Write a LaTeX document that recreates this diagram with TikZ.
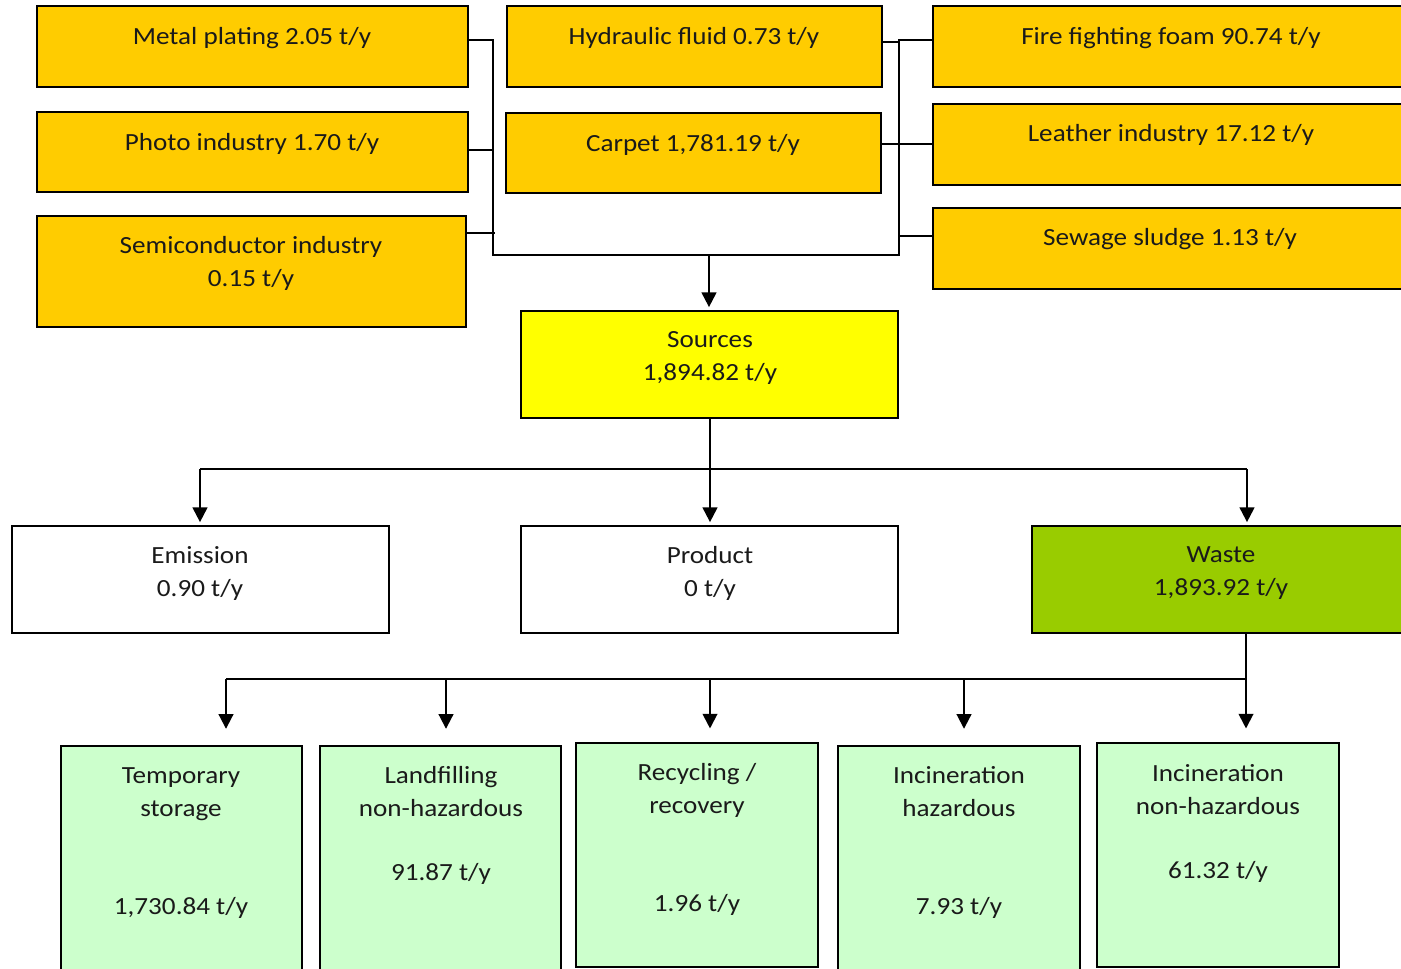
\documentclass[tikz,border=0pt]{standalone}
\usepackage{fontspec}
\setmainfont{Carlito}[FakeStretch=1.1]
\usetikzlibrary{fit,arrows.meta}
\definecolor{orng}{HTML}{FFCC00}
\definecolor{ylw}{HTML}{FFFF00}
\definecolor{wgreen}{HTML}{99CC00}
\definecolor{lgreen}{HTML}{CCFFCC}
\definecolor{txtc}{HTML}{1A1A1A}
\begin{document}
\begin{tikzpicture}[x=0.75pt,y=-0.75pt,
  box/.style={draw=black, line width=1.8pt, inner sep=0pt},
  conn/.style={line width=1.5pt},
  arr/.style={conn, -{Triangle[length=11pt,width=11pt]}, shorten >=2pt},
  txt/.style={font=\fontsize{18.5}{24.75}\selectfont, text=txtc, align=center, inner sep=0pt}]
\clip (0,0) rectangle (1401,969);
\fill[white] (0,0) rectangle (1401,969);
% source boxes
\node[box, fill=orng, fit={(37,6)(468,87)}] (mp) {};
\node[box, fill=orng, fit={(37,112)(468,192)}] (pi) {};
\node[box, fill=orng, fit={(37,216)(466,327)}] (si) {};
\node[box, fill=orng, fit={(507,6)(882,87)}] (hf) {};
\node[box, fill=orng, fit={(506,113)(881,193)}] (cp) {};
\node[box, fill=orng, fit={(933,6)(1412,87)}] (ff) {};
\node[box, fill=orng, fit={(933,104)(1412,185)}] (li) {};
\node[box, fill=orng, fit={(933,208)(1412,289)}] (ss) {};
\node[box, fill=ylw, fit={(521,311)(898,418)}] (src) {};
\node[box, fill=white, fit={(12,526)(389,633)}] (emi) {};
\node[box, fill=white, fit={(521,526)(898,633)}] (prd) {};
\node[box, fill=wgreen, fit={(1032,526)(1412,633)}] (wst) {};
\node[box, fill=lgreen, fit={(61,746)(302,975)}] (tmp) {};
\node[box, fill=lgreen, fit={(320,746)(561,975)}] (lnd) {};
\node[box, fill=lgreen, fit={(576,743)(818,967)}] (rec) {};
\node[box, fill=lgreen, fit={(838,746)(1080,975)}] (ih) {};
\node[box, fill=lgreen, fit={(1097,743)(1339,967)}] (inh) {};
% texts
\node[txt] (tmp1) at (252,38) {Metal plating 2.05 t/y};
\node[txt] (tpi) at (252,144) {Photo industry 1.70 t/y};
\node[txt] (tsi) at (251,263) {Semiconductor industry\\0.15 t/y};
\node[txt] (thf) at (694,38) {Hydraulic fluid 0.73 t/y};
\node[txt] (tcp) at (693,145) {Carpet 1,781.19 t/y};
\node[txt] (tff) at (1171,38) {Fire fighting foam 90.74 t/y};
\node[txt] (tli) at (1171,135) {Leather industry 17.12 t/y};
\node[txt] (tss) at (1170,239) {Sewage sludge 1.13 t/y};
\node[txt] (tsrc) at (710,358) {Sources\\1,894.82 t/y};
\node[txt] (temi) at (200,573) {Emission\\0.90 t/y};
\node[txt] (tprd) at (710,573) {Product\\0 t/y};
\node[txt] (twst) at (1221,573) {Waste\\1,893.92 t/y};
\node[txt] (ttmp) at (181,794) {Temporary\\storage};
\node[txt] (ttmpv) at (181,908) {1,730.84 t/y};
\node[txt] (tlnd) at (441,792) {Landfilling\\non-hazardous};
\node[txt] (tlndv) at (441,874) {91.87 t/y};
\node[txt] (trec) at (697,790) {Recycling /\\recovery};
\node[txt] (trecv) at (697,905) {1.96 t/y};
\node[txt] (tih) at (959,792) {Incineration\\hazardous};
\node[txt] (tihv) at (959,908) {7.93 t/y};
\node[txt] (tinh) at (1218,790) {Incineration\\non-hazardous};
\node[txt] (tinhv) at (1218,872) {61.32 t/y};
% junctions
\coordinate (jL1) at (493,40);
\coordinate (jL2) at (493,150);
\coordinate (jL3) at (495,233);
\coordinate (jBL) at (493,255);
\coordinate (jB) at (709,255);
\coordinate (jBR) at (899,255);
\coordinate (jR1) at (899,40);
\coordinate (jR2) at (899,42);
\coordinate (jR3) at (899,144);
\coordinate (jR4) at (899,236);
\coordinate (hL) at (200,469);
\coordinate (hM) at (710,469);
\coordinate (hR) at (1247,469);
\coordinate (wL) at (226,679);
\coordinate (w2) at (446,679);
\coordinate (w3) at (710,679);
\coordinate (w4) at (964,679);
\coordinate (wR) at (1246,679);
% connectors top
\draw[conn] (mp.east |- jL1) -- (jL1) -- (jBL) -- (jBR) -- (jR1) -- (ff.west |- jR1);
\draw[conn] (pi.east |- jL2) -- (jL2 -| jBL);
\draw[conn] (si.east |- jL3) -- (jL3);
\draw[conn] (hf.east |- jR2) -- (jR2);
\draw[conn] (cp.east |- jR3) -- (li.west |- jR3);
\draw[conn] (jR4) -- (ss.west |- jR4);
\draw[arr] (jB) -- (src.north -| jB);
% middle
\draw[arr] (src.south -| hM) -- (prd.north -| hM);
\draw[conn] (hL) -- (hR);
\draw[arr] (hL) -- (emi.north -| hL);
\draw[arr] (hR) -- (wst.north -| hR);
% bottom
\draw[conn] (wst.south -| wR) -- (wR) -- (wL);
\draw[arr] (wL) -- ([yshift=10pt]tmp.north -| wL);
\draw[arr] (w2) -- ([yshift=10pt]lnd.north -| w2);
\draw[arr] (w3) -- ([yshift=8pt]rec.north -| w3);
\draw[arr] (w4) -- ([yshift=10pt]ih.north -| w4);
\draw[arr] (wR) -- ([yshift=8pt]inh.north -| wR);
\end{tikzpicture}
\end{document}
